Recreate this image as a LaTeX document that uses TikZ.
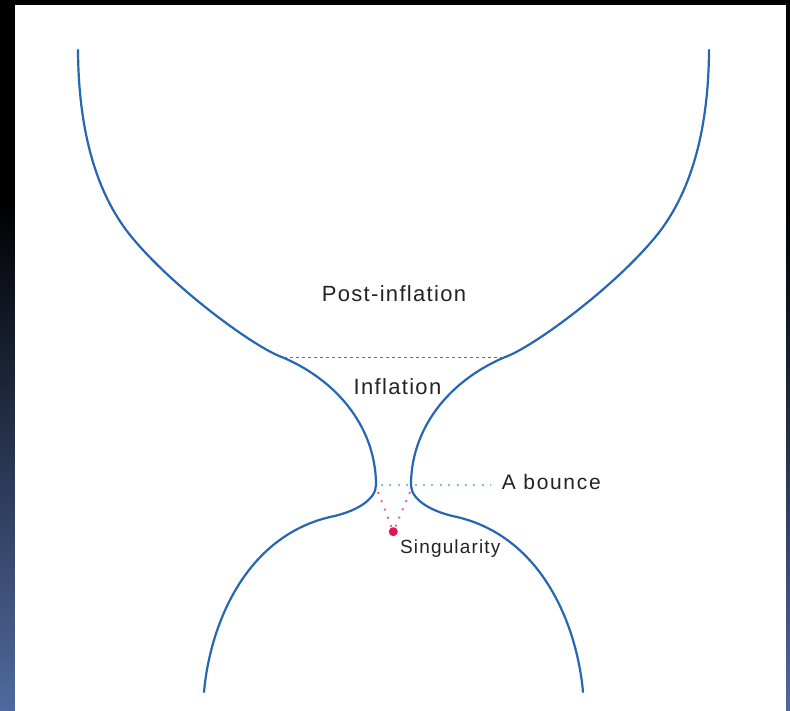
\documentclass[tikz,border=0pt]{standalone}
\usepackage{fontspec}
\setmainfont{Liberation Sans}
\definecolor{curveblue}{RGB}{38,102,178}
\definecolor{txtgray}{RGB}{35,35,35}
\definecolor{dashgreen}{RGB}{30,165,50}
\definecolor{dotcyan}{RGB}{115,195,230}
\definecolor{dotpink}{RGB}{235,90,150}
\definecolor{singred}{RGB}{228,20,80}
\definecolor{bandblue}{RGB}{80,105,158}
\newcommand\bowlcurve{(78,50) .. controls (78.5,135) and (98,195) .. (130,235)
 .. controls (172,287) and (255,348) .. (283,357.5)
 .. controls (340,382) and (376,430) .. (376,485)
 .. controls (376,500) and (355,512) .. (330,517)
 .. controls (245,537) and (210,625) .. (204,692)}
\tikzset{
 bowl/.style={draw=curveblue, line width=2.2pt, line cap=round},
 lbl/.style={text=txtgray, inner sep=0pt},
 greenline/.style={draw=dashgreen, line width=1.7pt, dash pattern=on 3.2pt off 2.8pt},
 cyanline/.style={draw=dotcyan, line width=1.9pt, dash pattern=on 1.9pt off 6.5pt},
 pinkline/.style={draw=dotpink, line width=1.9pt, dash pattern=on 1.9pt off 7pt},
}
\begin{document}
\begin{tikzpicture}[x=1pt,y=-1pt]
\useasboundingbox (0,0) rectangle (790,711);
% frame
\fill[black] (0,0) rectangle (790,711);
\shade[top color=black, bottom color=bandblue] (0,200) rectangle (790,711);
\fill[white] (15,5) rectangle (786,711);
% curves
\draw[bowl] \bowlcurve;
\begin{scope}[shift={(787,0)}, xscale=-1]
\draw[bowl] \bowlcurve;
\end{scope}
% markers
\coordinate (gl) at (284,357.5);
\coordinate (gr) at (503,357.5);
\draw[greenline] (gl) -- (gr);
\coordinate (bl) at (381,485);
\coordinate (br) at (491,485);
\draw[cyanline] (bl) -- (br);
\node[circle, fill=singred, inner sep=0pt, minimum size=9pt] (sing) at (393.3,531.7) {};
\coordinate (nl) at (378,492);
\coordinate (nr) at (410,492);
\draw[pinkline] (nl) -- (sing);
\draw[pinkline] (nr) -- (sing);
% labels
\node[lbl, anchor=base, font=\fontsize{22}{24}\selectfont\addfontfeature{LetterSpace=6}] (post) at (394,301.7) {Post-inflation};
\node[lbl, anchor=base, font=\fontsize{22}{24}\selectfont\addfontfeature{LetterSpace=6}] (infl) at (397.5,395) {Inflation};
\node[lbl, anchor=base west, font=\fontsize{21}{24}\selectfont\addfontfeature{LetterSpace=8}] (bounce) at (501.7,489.3) {A bounce};
\node[lbl, anchor=base west, font=\fontsize{19}{22}\selectfont\addfontfeature{LetterSpace=6}] (singl) at (400,553.3) {Singularity};
\end{tikzpicture}
\end{document}
